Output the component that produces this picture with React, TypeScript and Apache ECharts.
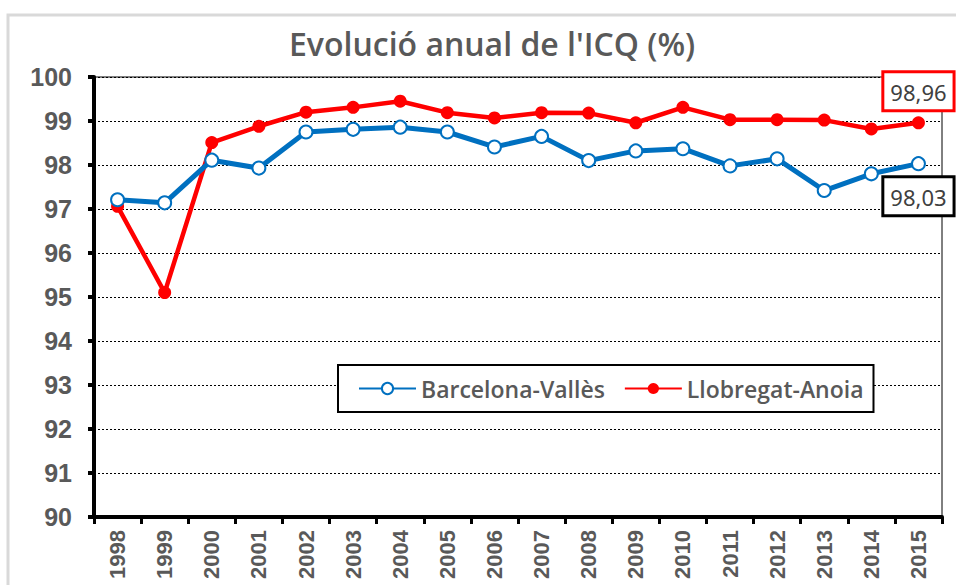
import React, { useEffect, useRef } from "react";
import * as echarts from "echarts";

const years = ["1998","1999","2000","2001","2002","2003","2004","2005","2006","2007","2008","2009","2010","2011","2012","2013","2014","2015"];
const barcelonaValles = [97.21, 97.14, 98.11, 97.93, 98.75, 98.81, 98.86, 98.75, 98.41, 98.65, 98.10, 98.32, 98.37, 97.98, 98.14, 97.42, 97.80, 98.03];
const llobregatAnoia = [97.06, 95.10, 98.51, 98.88, 99.20, 99.31, 99.45, 99.19, 99.07, 99.19, 99.18, 98.96, 99.31, 99.03, 99.03, 99.02, 98.82, 98.96];
const titleText = "Evolució anual de l'ICQ (%)";
const seriesNames = ["Barcelona-Vallès", "Llobregat-Anoia"];

const fmt = (v: number) => v.toFixed(2).replace(".", ",");

function withLastLabel(values: number[], color: string, position: "top" | "bottom") {
  return values.map((v, i) =>
    i === values.length - 1
      ? {
          value: v,
          label: {
            show: true,
            position,
            distance: 7,
            formatter: (p: any) => fmt(p.value),
            fontFamily: "Noto Sans",
            fontSize: 22,
            color: "#404040",
            backgroundColor: "#fff",
            borderColor: color,
            borderWidth: 3,
            padding: [8, 6, 6, 6],
          },
        }
      : v
  );
}

export default function App() {
  const ref = useRef<HTMLDivElement>(null);
  useEffect(() => {
    const chart = echarts.init(ref.current!, null, { renderer: "svg" });
    chart.setOption({
      animation: false,
      backgroundColor: "#fff",
      title: {
        text: titleText,
        left: 284,
        top: 22,
        textStyle: { fontFamily: "Open Sans", fontSize: 32, fontWeight: 600, color: "#595959" },
      },
      graphic: [
        {
          type: "rect",
          shape: { x: 8, y: 15, width: 1000, height: 700 },
          style: { fill: "none", stroke: "#D9D9D9", lineWidth: 3 },
          silent: true,
          z: 0,
        },
      ],
      grid: {
        left: 94,
        right: 14,
        top: 77,
        bottom: 68,
        show: true,
        borderColor: "#000",
        borderWidth: 1,
        backgroundColor: "transparent",
      },
      legend: {
        data: seriesNames,
        left: 338,
        top: 365,
        padding: [12, 10, 12, 20],
        itemGap: 19,
        itemWidth: 57,
        itemHeight: 14,
        backgroundColor: "#fff",
        borderColor: "#000",
        borderWidth: 2,
        borderRadius: 0,
        textStyle: { fontFamily: "Open Sans", fontSize: 23, fontWeight: 600, color: "#595959" },
      },
      xAxis: {
        type: "category",
        data: years,
        boundaryGap: true,
        axisLine: { lineStyle: { color: "#000", width: 4 } },
        axisTick: { show: true, length: 7, lineStyle: { color: "#000", width: 3 } },
        axisLabel: {
          rotate: 90,
          margin: 13,
          fontFamily: "Liberation Sans",
          fontSize: 22,
          fontWeight: "bold",
          color: "#595959",
        },
        splitLine: { show: false },
      },
      yAxis: {
        type: "value",
        min: 90,
        max: 100,
        interval: 1,
        axisLine: { show: true, lineStyle: { color: "#000", width: 4 } },
        axisTick: { show: true, length: 6, lineStyle: { color: "#000", width: 4 } },
        axisLabel: {
          margin: 22,
          fontFamily: "Liberation Sans",
          fontSize: 25,
          fontWeight: "bold",
          color: "#595959",
        },
        splitLine: { show: true, lineStyle: { color: "#000", width: 1, type: [2, 2] } },
      },
      series: [
        {
          name: seriesNames[0],
          type: "line",
          data: withLastLabel(barcelonaValles, "#000", "bottom"),
          symbol: "emptyCircle",
          symbolSize: 13,
          lineStyle: { color: "#0070C0", width: 5 },
          itemStyle: { color: "#0070C0", borderWidth: 2.5 },
          z: 3,
        },
        {
          name: seriesNames[1],
          type: "line",
          data: withLastLabel(llobregatAnoia, "#FF0000", "top"),
          symbol: "circle",
          symbolSize: 13,
          lineStyle: { color: "#FF0000", width: 4.5 },
          itemStyle: { color: "#FF0000" },
          z: 2,
        },
      ],
    });
    return () => chart.dispose();
  }, []);
  return <div ref={ref} style={{ position: "fixed", left: 0, top: 0, width: 956, height: 585 }} />;
}
